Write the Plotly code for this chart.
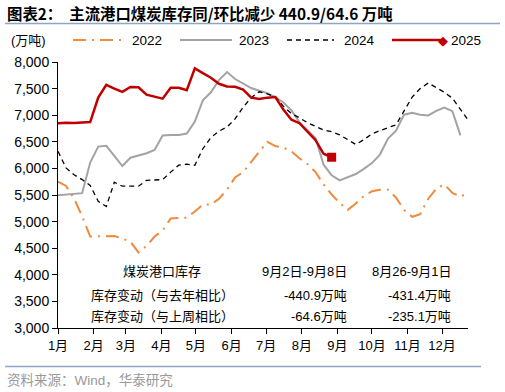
import plotly.graph_objects as go
import pandas as pd

# ---- data (weekly) ----
month_labels = ["1月", "2月", "3月", "4月", "5月", "6月", "7月", "8月", "9月", "10月", "11月", "12月"]
month_starts = ["2025-%02d-01" % m for m in range(1, 13)]

v2022 = [5750, 5670, 5430, 5100, 4720, 4720, 4725, 4730, 4680, 4620, 4420, 4540, 4720,
         4830, 5060, 5065, 5075, 5190, 5320, 5320, 5430, 5600, 5830, 5930, 6120, 6330,
         6500, 6420, 6390, 6320, 6190, 6080, 5930, 5700, 5510, 5350, 5220, 5340, 5480,
         5570, 5600, 5600, 5450, 5220, 5090, 5140, 5430, 5620, 5700, 5540, 5470, 5540]
v2023 = [5495, 5510, 5525, 5535, 6110, 6410, 6425, 6240, 6045, 6200, 6245, 6285, 6345,
         6620, 6630, 6630, 6655, 6880, 7280, 7430, 7660, 7810, 7680, 7590, 7510, 7460,
         7415, 7340, 7240, 7090, 6870, 6720, 6570, 6070, 5870, 5775, 5830, 5895, 5990,
         6100, 6260, 6560, 6710, 7010, 7045, 7010, 6995, 7080, 7145, 7075, 6620]
v2024 = [6320, 6010, 5880, 5790, 5680, 5380, 5285, 5740, 5665, 5670, 5665, 5775, 5780,
         5790, 5930, 6060, 6080, 6060, 6370, 6580, 6700, 6780, 6930, 7150, 7330, 7440,
         7400, 7345, 7170, 7030, 6950, 6860, 6790, 6720, 6690, 6630, 6540, 6450, 6540,
         6650, 6710, 6760, 6820, 7080, 7340, 7500, 7605, 7520, 7430, 7320, 7100, 6900]
v2025 = [6850, 6860, 6855, 6860, 6870, 7330, 7570, 7500, 7440, 7530, 7525, 7385, 7350,
         7310, 7515, 7515, 7470, 7880, 7790, 7705, 7590, 7540, 7535, 7480, 7330, 7305,
         7330, 7340, 7105, 6915, 6850, 6690, 6530, 6275, 6210]

series_names = ["2022", "2023", "2024", "2025"]
table_header = ["煤炭港口库存", "9月2日-9月8日", "8月26-9月1日"]
row_yoy = ["库存变动（与去年相比）", "-440.9万吨", "-431.4万吨"]
row_wow = ["库存变动（与上周相比）", "-64.6万吨", "-235.1万吨"]

start = pd.Timestamp("2025-01-01")


def weeks(n):
    return [start + pd.Timedelta(days=7 * i) for i in range(n)]


# ---- layout geometry helpers (pixel -> paper) ----
W, H = 505, 392
L, R, T, B = 58, 468, 62, 328


def px(x):
    return (x - L) / (R - L)


def py(y):
    return (B - y) / (B - T)


FONT = "Arial, Liberation Sans, Noto Sans CJK SC, sans-serif"
CJK = "Noto Sans CJK SC, sans-serif"

styles = [
    dict(color="#F08A3C", width=2, dash="13px,6px,2px,6px"),
    dict(color="#A3A3A3", width=2),
    dict(color="#000000", width=1.3, dash="5px,4px"),
    dict(color="#C00000", width=2.5),
]
values = [v2022, v2023, v2024, v2025]

fig = go.Figure()
for name, vals, st in zip(series_names, values, styles):
    fig.add_trace(go.Scatter(x=weeks(len(vals)), y=vals, name=name, mode="lines",
                             line=st, showlegend=False))
fig.add_trace(go.Scatter(x=weeks(len(v2025))[-1:], y=v2025[-1:], mode="markers",
                         showlegend=False,
                         marker=dict(symbol="square", size=9, color="#C00000")))

annotations = [
    dict(text="<b>图表2：  主流港口煤炭库存同/环比减少 440.9/64.6 万吨</b>", x=px(5), y=py(13),
         xanchor="left", yanchor="middle", font=dict(size=15.4, family=CJK, color="#000")),
    dict(text="(万吨)", x=px(9), y=py(40), xanchor="left", yanchor="middle",
         font=dict(size=13, family=FONT, color="#000")),
    dict(text="资料来源：Wind，华泰研究", x=px(5), y=py(380), xanchor="left", yanchor="middle",
         font=dict(size=13.5, family=FONT, color="#999999")),
]

# legend, drawn by hand: sample line span (px) and text start (px)
legend_items = [(73, 125, 130), (180, 232, 237), (287, 334, 342), (392, 443, 449)]
shapes = []
for (x0, x1, xt), name, st in zip(legend_items, series_names, styles):
    shapes.append(dict(type="line", xref="paper", yref="paper", x0=px(x0), x1=px(x1),
                       y0=py(40), y1=py(40), line=st))
    annotations.append(dict(text=name, x=px(xt), y=py(40.5), xanchor="left", yanchor="middle",
                            font=dict(size=13.5, family=FONT, color="#000")))
annotations.append(dict(text="◆", x=px(443), y=py(40), xanchor="center", yanchor="middle",
                        font=dict(size=13, family="DejaVu Sans", color="#C00000")))

rows = [(table_header, 271.5), (row_yoy, 295.5), (row_wow, 316)]
for cells, yy in rows:
    annotations.append(dict(text=cells[0], x=px(162), y=py(yy), xanchor="center", yanchor="middle",
                            font=dict(size=13, family=FONT, color="#000")))
    annotations.append(dict(text=cells[1], x=px(349), y=py(yy), xanchor="right", yanchor="middle",
                            font=dict(size=13, family=FONT, color="#000")))
    annotations.append(dict(text=cells[2], x=px(453), y=py(yy), xanchor="right", yanchor="middle",
                            font=dict(size=13, family=FONT, color="#000")))
for a in annotations:
    a.update(xref="paper", yref="paper", showarrow=False)

shapes += [
    dict(type="line", xref="paper", yref="paper", x0=px(5), x1=px(500), y0=py(23.5), y1=py(23.5),
         line=dict(color="#8EA6C4", width=1.5)),
    dict(type="line", xref="paper", yref="paper", x0=px(5), x1=px(481), y0=py(366.5), y1=py(366.5),
         line=dict(color="#8EA6C4", width=1.5)),
]

fig.update_layout(
    width=W, height=H,
    margin=dict(l=L, r=W - R, t=T, b=H - B),
    paper_bgcolor="white", plot_bgcolor="white",
    font=dict(family=FONT, size=13, color="#000"),
    showlegend=False,
    annotations=annotations,
    shapes=shapes,
    xaxis=dict(type="date", range=["2025-01-01", "2025-12-23 14:00"],
               tickvals=month_starts, ticktext=month_labels, automargin=False,
               showgrid=False, zeroline=False, showline=True, linecolor="#000", linewidth=1,
               ticks="outside", ticklen=5, tickcolor="#000",
               tickfont=dict(size=13, family=FONT)),
    yaxis=dict(range=[3000, 8000], tickvals=[3000, 3500, 4000, 4500, 5000, 5500, 6000, 6500, 7000, 7500, 8000],
               tickformat=",", showgrid=False, zeroline=False, showline=True, linecolor="#000",
               linewidth=1, ticks="outside", ticklen=5, tickcolor="#000", automargin=False,
               tickfont=dict(size=14, family=FONT)),
)

fig.write_html("out.html", config={"displayModeBar": False},
               post_script="document.body.style.margin='0';document.body.style.overflow='hidden';")
